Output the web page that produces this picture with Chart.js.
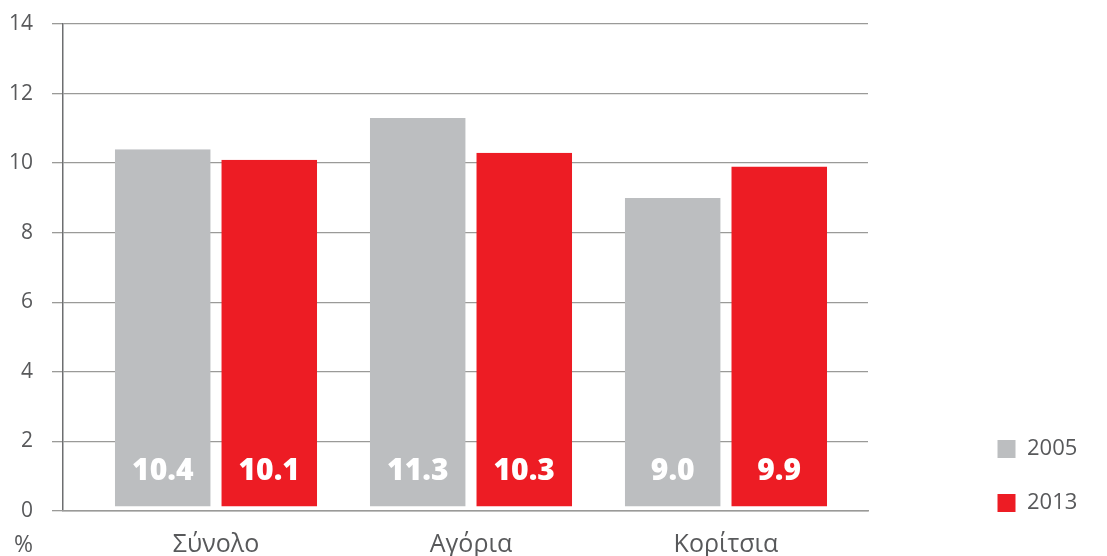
<!DOCTYPE html>
<html>
<head>
<meta charset="utf-8">
<script src="https://cdn.jsdelivr.net/npm/chart.js@4.4.1/dist/chart.umd.min.js"></script>
<style>
  html, body { margin: 0; padding: 0; background: #fff; }
  #wrap { width: 1107px; height: 556px; }
</style>
</head>
<body>
<div id="wrap"><canvas id="chart"></canvas></div>
<script>
const categories = ['Σύνολο', 'Αγόρια', 'Κορίτσια'];
const years = ['2005', '2013'];
const values2005 = [10.4, 11.3, 9.0];
const values2013 = [10.1, 10.3, 9.9];
const yTicks = [0, 2, 4, 6, 8, 10, 12, 14];
const unitLabel = '%';

const GREY = '#bcbec0';
const RED = '#ed1c24';
const TEXT = '#58595b';
const GRID = '#9a9a98';
const FONT = "'Open Sans', 'DejaVu Sans', sans-serif";

// categories sit at x = 1, 2, 3 on a linear axis so the plot can be off-centre
const toPoints = (vals) => vals.map((v, i) => ({ x: i + 1, y: v }));

// white value labels near the bottom of each bar
const barLabels = {
  id: 'barLabels',
  afterDatasetsDraw(chart) {
    const ctx = chart.ctx;
    const base = chart.scales.y.getPixelForValue(0);
    ctx.save();
    ctx.fillStyle = '#fff';
    ctx.font = "800 30px " + FONT;
    ctx.textAlign = 'center';
    ctx.textBaseline = 'middle';
    chart.data.datasets.forEach((ds, di) => {
      chart.getDatasetMeta(di).data.forEach((bar, i) => {
        ctx.fillText(ds.data[i].y.toFixed(1), bar.x, base - 40);
      });
    });
    ctx.restore();
  }
};

// "%" under the y axis labels
const unitText = {
  id: 'unitText',
  afterDraw(chart) {
    const y = chart.scales.y;
    const ctx = chart.ctx;
    ctx.save();
    ctx.fillStyle = TEXT;
    ctx.font = "23px " + FONT;
    ctx.textAlign = 'right';
    ctx.textBaseline = 'middle';
    ctx.fillText(unitLabel, y.right - 11 - 19, chart.chartArea.bottom + 34);
    ctx.restore();
  }
};

// give the legend a fixed width, then push it out to the right edge
const legendPlace = {
  id: 'legendPlace',
  beforeInit(chart) {
    const fit = chart.legend.fit;
    chart.legend.fit = function () {
      fit.call(this);
      this.width = 239;
    };
  },
  afterLayout(chart) {
    const lg = chart.legend;
    lg.left += 97;
    lg.right += 97;
    lg.top += 35;
    lg.bottom += 35;
  }
};

new Chart(document.getElementById('chart'), {
  type: 'bar',
  data: {
    datasets: [
      { label: years[0], data: toPoints(values2005), backgroundColor: GREY },
      { label: years[1], data: toPoints(values2013), backgroundColor: RED }
    ]
  },
  options: {
    responsive: true,
    maintainAspectRatio: false,
    animation: false,
    layout: { padding: { top: 24, left: 10, right: 0, bottom: 0 } },
    datasets: {
      bar: {
        categoryPercentage: 0.835,
        barPercentage: 0.9,
        borderColor: '#fff',
        borderWidth: { top: 0, left: 0, right: 0, bottom: 4 },
        borderSkipped: false
      }
    },
    scales: {
      x: {
        type: 'linear',
        offset: false,
        min: 0.4,
        max: 3.557,
        afterFit: (scale) => { scale.height = 45; },
        grid: { display: false, drawTicks: false },
        border: { display: true, color: GRID, width: 1.5, z: 1 },
        ticks: {
          stepSize: 1,
          includeBounds: false,
          autoSkip: false,
          maxRotation: 0,
          padding: 21,
          color: TEXT,
          font: { family: FONT, size: 25, lineHeight: 1 },
          callback: (v) => categories[v - 1] || ''
        }
      },
      y: {
        min: 0,
        max: 14,
        afterBuildTicks: (scale) => { scale.ticks = yTicks.map(v => ({ value: v })); },
        afterFit: (scale) => { scale.width = 53; scale.paddingTop = 0; },
        grid: { color: GRID, lineWidth: 1.3, tickLength: 11 },
        border: { display: true, color: '#6d6e70', width: 1.5 },
        ticks: {
          padding: 19,
          color: TEXT,
          font: { family: FONT, size: 21 }
        }
      }
    },
    plugins: {
      tooltip: { enabled: false },
      legend: {
        position: 'right',
        align: 'end',
        fullSize: false,
        labels: {
          boxWidth: 19,
          boxHeight: 19,
          padding: 32,
          color: TEXT,
          font: { family: FONT, size: 22 }
        }
      }
    }
  },
  plugins: [barLabels, unitText, legendPlace]
});
</script>
</body>
</html>
